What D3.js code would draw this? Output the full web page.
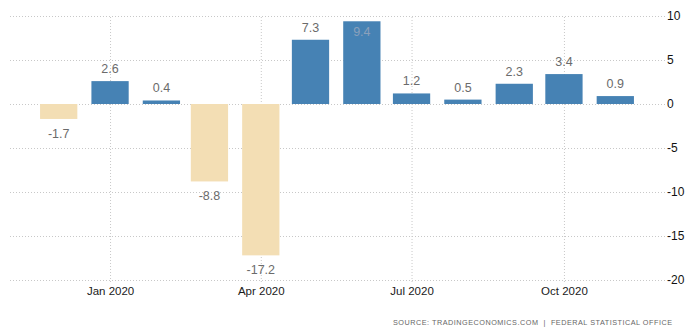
<!DOCTYPE html>
<html><head><meta charset="utf-8">
<script src="https://cdn.jsdelivr.net/npm/d3@7"></script>
<style>
html,body{margin:0;padding:0;background:#fff;}
svg{display:block;font-family:"Liberation Sans",Arial,sans-serif;}
</style></head>
<body><svg id="c" width="692" height="334"></svg>
<script>
const months = ["2019-12","2020-01","2020-02","2020-03","2020-04","2020-05","2020-06","2020-07","2020-08","2020-09","2020-10","2020-11"];
const values = [-1.7, 2.6, 0.4, -8.8, -17.2, 7.3, 9.4, 1.2, 0.5, 2.3, 3.4, 0.9];
const yTicks = [10, 5, 0, -5, -10, -15, -20];
const xTickLabels = ["2020-01","2020-04","2020-07","2020-10"];
const sourceText = "SOURCE: TRADINGECONOMICS.COM  |  FEDERAL STATISTICAL OFFICE";

(function () {
const parse = d3.utcParse("%Y-%m");
const svg = d3.select("#c");
const mLeft = 9, mRight = 665, mTop = 16, mBottom = 280;

const x = d3.scaleUtc().domain([parse("2019-11"), parse("2020-12")]).range([mLeft, mRight]);
const y = d3.scaleLinear().domain([-20, 10]).range([mBottom, mTop]);

// horizontal grid
const gy = svg.append("g").attr("transform", `translate(${mRight},0)`)
  .call(d3.axisRight(y).tickValues(yTicks).tickSize(-(mRight - mLeft)).tickPadding(3).tickFormat(d => String(d)));
gy.select(".domain").remove();
gy.selectAll(".tick line").attr("stroke", "#c8c8c8").attr("stroke-dasharray", "1,2");
gy.selectAll(".tick text").attr("font-size", 12).attr("fill", "#111").attr("font-family", "'Liberation Sans',Arial,sans-serif").attr("x", 2);

// vertical grid + x labels
const gx = svg.append("g").attr("transform", `translate(0,${mBottom + 2})`)
  .call(d3.axisBottom(x).tickValues(xTickLabels.map(parse)).tickSize(-(mBottom + 2 - mTop)).tickPadding(5).tickFormat(d3.utcFormat("%b %Y")));
gx.select(".domain").remove();
gx.selectAll(".tick line").attr("stroke", "#c8c8c8").attr("stroke-dasharray", "1,2");
gx.selectAll(".tick text").attr("font-size", 11.5).attr("fill", "#1a1a1a").attr("font-family", "'Liberation Sans',Arial,sans-serif");

// bars
const bw = (x(parse("2019-12")) - x(parse("2019-11"))) * 0.75;
const data = months.map((m, i) => ({date: parse(m), v: values[i]}));
svg.append("g").selectAll("rect").data(data).join("rect")
  .attr("x", d => x(d.date) - bw / 2)
  .attr("width", bw)
  .attr("y", d => d.v >= 0 ? y(d.v) : y(0))
  .attr("height", d => Math.abs(y(d.v) - y(0)))
  .attr("fill", d => d.v >= 0 ? "#4682B4" : "#F3DEB4");

// labels
svg.append("g").selectAll("text").data(data).join("text")
  .attr("x", d => x(d.date))
  .attr("y", d => {
    if (d.v >= 9) return y(d.v) + 15;
    return d.v >= 0 ? y(d.v) - 8 : y(d.v) + 19;
  })
  .attr("text-anchor", "middle")
  .attr("font-size", 12.5)
  .attr("fill", d => d.v >= 9 ? "#8aa0bb" : "#6b6b6b")
  .text(d => d.v.toFixed(1));

// source
const src = svg.append("text")
  .attr("x", 393).attr("y", 325)
  .attr("font-size", 9).attr("fill", "#666")
  .style("white-space", "pre")
  .text(sourceText);
const n0 = src.node().getComputedTextLength();
const fs = Math.min(9, 9 * 250 / n0);
src.attr("font-size", fs);
const n1 = src.node().getComputedTextLength();
const ls = Math.max(0, (279 - n1) / (sourceText.length - 1));
src.style("letter-spacing", ls + "px");
})();
</script></body></html>
